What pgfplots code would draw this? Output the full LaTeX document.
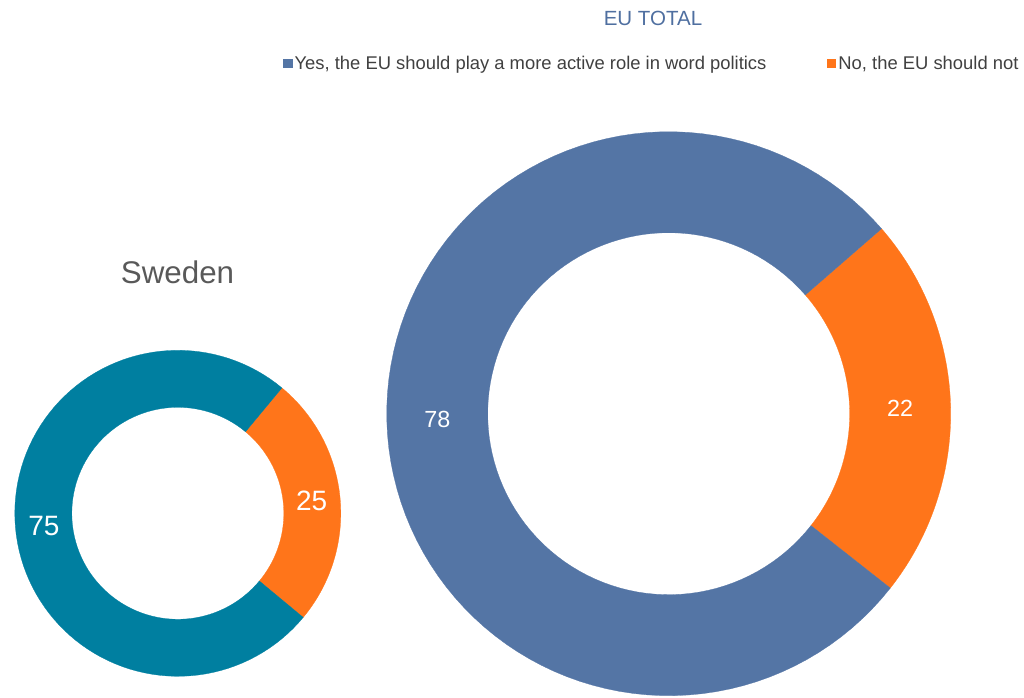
\documentclass[border=0pt]{standalone}
\usepackage{fontspec}
\setmainfont{Liberation Sans}
\usepackage{pgfplots}
\pgfplotsset{compat=1.18}
\definecolor{eublue}{RGB}{84,117,165}
\definecolor{noorange}{RGB}{255,117,26}
\definecolor{seteal}{RGB}{0,127,160}
\definecolor{txtgray}{RGB}{64,64,64}
\definecolor{midgray}{RGB}{89,89,89}
\definecolor{titleblue}{RGB}{79,111,160}

% shares in percent
\def\EUyes{78}\def\EUno{22}
\def\SEyes{75}\def\SEno{25}

% ring segment: cx, cy, outer r, inner r, from angle, to angle, colour
\newcommand\ringslice[7]{%
  \addplot[forget plot, fill=#7, draw=#7, line width=0.2pt, variable=\t, samples at={0,1,...,201}]
   ({#1+((\t<100.5)?(#3):(#4))*cos((\t<100.5)?((#5)+((#6)-(#5))*\t/100):((#6)-((#6)-(#5))*(\t-101)/100))},
    {#2+((\t<100.5)?(#3):(#4))*sin((\t<100.5)?((#5)+((#6)-(#5))*\t/100):((#6)-((#6)-(#5))*(\t-101)/100))}) -- cycle;
}

\begin{document}
\begin{tikzpicture}
% angles, starting with the "No" slice
\pgfmathsetmacro\euA{-38.2}
\pgfmathsetmacro\euB{\euA+3.6*\EUno}
\pgfmathsetmacro\euC{\euB+3.6*\EUyes}
\pgfmathsetmacro\seA{-39.7}
\pgfmathsetmacro\seB{\seA+3.6*\SEno}
\pgfmathsetmacro\seC{\seB+3.6*\SEyes}
% label positions (middle of the ring, middle of the slice)
\pgfmathsetmacro\euNx{668.7+231.5*cos((\euA+\euB)/2)}
\pgfmathsetmacro\euNy{283.3+231.5*sin((\euA+\euB)/2)}
\pgfmathsetmacro\euYx{668.7+231.5*cos((\euB+\euC)/2)}
\pgfmathsetmacro\euYy{283.3+231.5*sin((\euB+\euC)/2)}
\pgfmathsetmacro\seNx{177.8+134.5*cos((\seA+\seB)/2)}
\pgfmathsetmacro\seNy{183.7+134.5*sin((\seA+\seB)/2)}
\pgfmathsetmacro\seYx{177.8+134.5*cos((\seB+\seC)/2)}
\pgfmathsetmacro\seYy{183.7+134.5*sin((\seB+\seC)/2)}
\begin{axis}[
    x=0.75pt, y=0.75pt,
    xmin=0, xmax=1024, ymin=0, ymax=697,
    hide axis, clip=false,
    legend columns=2,
    legend image code/.code={\fill (0pt,-3.5pt) rectangle (7pt,3.5pt);},
    legend style={at={(0.2764,0.909)}, anchor=west, draw=none, fill=none,
        inner sep=0pt, font=\fontsize{13.8}{16}\selectfont, text=txtgray,
        nodes={inner sep=1.5pt},
        /tikz/every even column/.append style={column sep=44pt}},
]
\ringslice{668.7}{283.3}{282}{181}{\euA}{\euB}{noorange}
\ringslice{668.7}{283.3}{282}{181}{\euB}{\euC}{eublue}
\ringslice{177.8}{183.7}{163}{106}{\seA}{\seB}{noorange}
\ringslice{177.8}{183.7}{163}{106}{\seB}{\seC}{seteal}

\addlegendimage{fill=eublue, draw=none}
\addlegendentry{Yes, the EU should play a more active role in word politics}
\addlegendimage{fill=noorange, draw=none}
\addlegendentry{No, the EU should not}

\node[text=white, font=\fontsize{17.5}{20}\selectfont] at (axis cs:\euYx,\euYy) {\EUyes};
\node[text=white, font=\fontsize{17.5}{20}\selectfont] at (axis cs:\euNx,\euNy) {\EUno};
\node[text=white, font=\fontsize{21}{24}\selectfont] at (axis cs:\seYx,\seYy) {\SEyes};
\node[text=white, font=\fontsize{21}{24}\selectfont] at (axis cs:\seNx,\seNy) {\SEno};

\node[text=titleblue, font=\fontsize{15.4}{18}\selectfont] at (axis cs:653,679) {EU TOTAL};
\node[text=midgray, font=\fontsize{23.5}{28}\selectfont] at (axis cs:177.5,425) {Sweden};
\end{axis}
\pgfresetboundingbox
\path (current axis.south west) rectangle (current axis.north east);
\end{tikzpicture}
\end{document}
